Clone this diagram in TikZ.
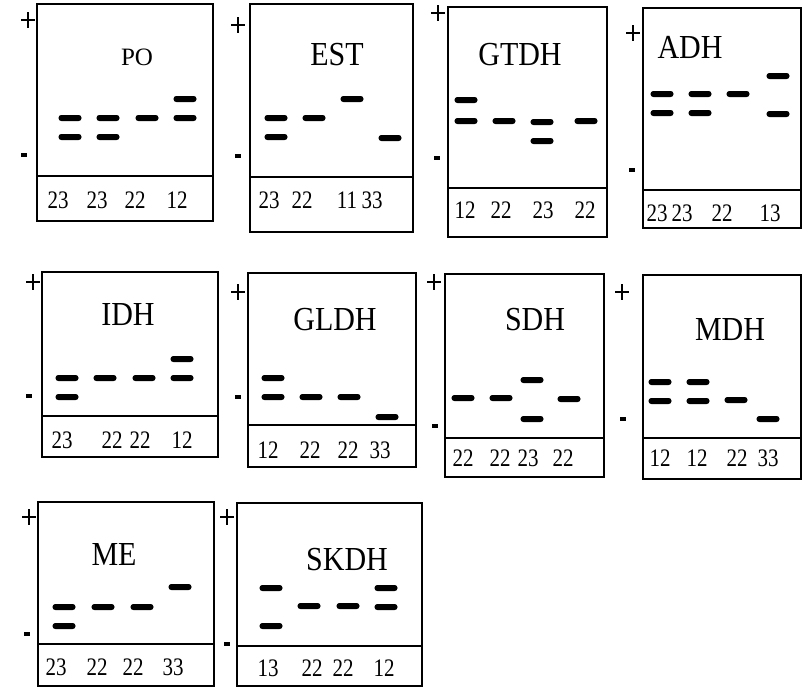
\documentclass[tikz,border=0pt]{standalone}
\usepackage{graphicx}
\usepackage{fontspec}
\setmainfont{Liberation Serif}
\newcommand\gelbox[5]{\draw[gelframe] (#1,#2) rectangle (#3,#4); \draw[gelframe] (#1,#5) -- (#3,#5);}
\newcommand\bnd[2]{\fill[gelband] (#1-11.5,#2-3) rectangle (#1+11.5,#2+3);}
\newcommand\plussign[2]{\draw[pmline] (#1-7,#2) -- (#1+7,#2) (#1,#2-8) -- (#1,#2+8);}
\newcommand\minussign[2]{\fill[black] (#1-3,#2-2) rectangle (#1+3,#2+2);}
\newcommand\gname[3]{\node[gtitle] at (#1,#2) {\scalebox{1}[1.12]{#3}};}
\newcommand\gnum[3]{\node[gnumber] at (#1,#2) {\scalebox{1}[1.2]{#3}};}
\begin{document}
\begin{tikzpicture}[x=1pt,y=-1pt,
  gelframe/.style={draw=black,line width=1.7pt},
  gelband/.style={fill=black,rounded corners=2.8pt},
  gtitle/.style={font=\fontsize{30}{30}\selectfont,inner sep=0pt},
  gnumber/.style={font=\fontsize{21}{21}\selectfont,inner sep=0pt},
  pmline/.style={line width=2pt}]
\useasboundingbox[fill=white] (0,0) rectangle (802,688);

% PO
\gelbox{37}{4}{213}{221}{176}
\plussign{28}{20} \minussign{24}{155}
\node[gtitle,font=\fontsize{25}{25}\selectfont] at (137,57) {PO};
\bnd{70}{118} \bnd{70}{137} \bnd{108}{118} \bnd{108}{137} \bnd{147}{118} \bnd{185}{99} \bnd{185}{118}
\gnum{58}{200}{23} \gnum{97}{200}{23} \gnum{135}{200}{22} \gnum{177}{200}{12}

% EST
\gelbox{250}{4}{413}{232}{177}
\plussign{238}{25} \minussign{238}{156}
\gname{337}{55}{EST}
\bnd{276}{118} \bnd{276}{137} \bnd{314}{118} \bnd{352}{99} \bnd{390}{138}
\gnum{269}{200}{23} \gnum{302}{200}{22} \gnum{347}{200}{11} \gnum{372}{200}{33}

% GTDH
\gelbox{448}{7}{607}{237}{188}
\plussign{438}{13} \minussign{437}{158}
\gname{520}{55}{GTDH}
\bnd{466}{100} \bnd{466}{121} \bnd{504}{121} \bnd{542}{122} \bnd{542}{141} \bnd{586}{121}
\gnum{465}{210}{12} \gnum{501}{210}{22} \gnum{543}{210}{23} \gnum{585}{210}{22}

% ADH
\gelbox{643}{8}{801}{228}{190}
\plussign{633}{33} \minussign{632}{170}
\gname{690}{47}{ADH}
\bnd{662}{94} \bnd{662}{113} \bnd{700}{94} \bnd{700}{113} \bnd{738}{94} \bnd{778}{76} \bnd{778}{114}
\gnum{657}{213}{23} \gnum{682}{213}{23} \gnum{722}{213}{22} \gnum{770}{213}{13}

% IDH
\gelbox{42}{272}{218}{457}{416}
\plussign{33}{282} \minussign{29}{396}
\gname{128}{315}{IDH}
\bnd{67}{378} \bnd{67}{397} \bnd{105}{378} \bnd{144}{378} \bnd{182}{359} \bnd{182}{378}
\gnum{62}{440}{23} \gnum{112}{440}{22} \gnum{140}{440}{22} \gnum{182}{440}{12}

% GLDH
\gelbox{248}{273}{416}{467}{425}
\plussign{238}{292} \minussign{238}{397}
\gname{335}{320}{GLDH}
\bnd{273}{378} \bnd{273}{397} \bnd{311}{397} \bnd{349}{397} \bnd{387}{417}
\gnum{268}{450}{12} \gnum{310}{450}{22} \gnum{348}{450}{22} \gnum{380}{450}{33}

% SDH
\gelbox{445}{274}{604}{477}{438}
\plussign{434}{282} \minussign{435}{426}
\gname{535}{320}{SDH}
\bnd{463}{398} \bnd{501}{398} \bnd{532}{380} \bnd{532}{419} \bnd{569}{399}
\gnum{463}{458}{22} \gnum{500}{458}{22} \gnum{528}{458}{23} \gnum{563}{458}{22}

% MDH
\gelbox{643}{275}{801}{479}{438}
\plussign{622}{292} \minussign{623}{419}
\gname{730}{330}{MDH}
\bnd{660}{382} \bnd{660}{401} \bnd{698}{382} \bnd{698}{401} \bnd{736}{400} \bnd{768}{419}
\gnum{660}{458}{12} \gnum{697}{458}{12} \gnum{737}{458}{22} \gnum{768}{458}{33}

% ME
\gelbox{38}{502}{214}{686}{644}
\plussign{29}{517} \minussign{27}{634}
\gname{114}{554}{ME}
\bnd{64}{607} \bnd{64}{626} \bnd{103}{607} \bnd{142}{607} \bnd{180}{587}
\gnum{56}{667}{23} \gnum{97}{667}{22} \gnum{133}{667}{22} \gnum{173}{667}{33}

% SKDH
\gelbox{237}{503}{422}{686}{646}
\plussign{227}{517} \minussign{227}{644}
\gname{347}{560}{SKDH}
\bnd{271}{588} \bnd{271}{626} \bnd{309}{606} \bnd{348}{606} \bnd{386}{588} \bnd{386}{607}
\gnum{268}{668}{13} \gnum{312}{668}{22} \gnum{343}{668}{22} \gnum{384}{668}{12}
\end{tikzpicture}
\end{document}
